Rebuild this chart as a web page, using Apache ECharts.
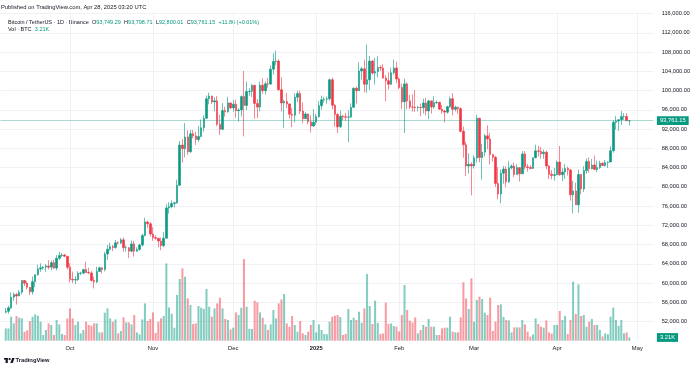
<!DOCTYPE html>
<html><head><meta charset="utf-8">
<script src="https://cdn.jsdelivr.net/npm/echarts@6/dist/echarts.min.js"></script>
<style>html,body{margin:0;padding:0;background:#fff}#c{width:700px;height:369px}</style>
</head><body><div id="c"></div>
<script>
// ---- data (BTC/USDT, Binance, 1D, 2024-09-07 .. 2025-04-28) ----
const firstDay = [2024, 8, 7]; // Sep 7 2024 (UTC)
const opens = [
53950,54160,54880,57050,57640,57340,58130,60570,60000,59130,58210,60310,61760,62950,63200,63350,63580,63330,64260,63140,65180,65770,65860,65600,
63300,60800,60650,60750,62070,62090,62820,62220,62130,60580,60270,62450,63190,62850,66050,67040,67610,67400,68390,68360,69000,67370,67380,66650,68160,66640,67010,67930,69910,72720,72340,
70220,69480,69320,68740,67800,69360,75640,75900,76540,76700,80370,88700,87950,90380,87300,91060,90600,89850,90460,92310,94290,98320,98890,97670,97900,93010,91970,95860,95640,97460,
96410,97200,95840,96000,98770,96940,99830,99870,101110,97360,96590,101130,100000,101420,101370,104460,106060,106140,100200,97460,97750,97220,95100,94880,98640,99400,95750,94180,95160,93520,92640,
93430,94590,96890,98110,98240,98310,102280,96950,95040,92480,94700,94570,94490,94520,96530,100500,99990,104080,104560,101340,102260,106150,103650,103960,104820,104710,102620,102080,101330,103730,104730,
102430,100640,97690,101410,97870,96620,96550,96470,96500,96450,97430,95780,97870,96620,97510,97570,96120,95770,95540,96650,98330,96120,96560,96270,91550,88740,84350,84700,
84370,86030,94270,86120,87220,90620,89960,86740,86150,80730,78530,82860,83720,81060,83960,84330,82570,84010,82720,86850,84170,84040,83830,86080,87500,87390,86900,87220,84350,82650,82390,
82550,85160,82520,83100,83840,83500,78370,79140,76270,82580,79590,83400,85280,83760,84540,83630,84030,84940,84450,85060,85170,87520,93440,93690,93980,94640,94640,93749.29];
const highs = [
54850,55300,58090,58040,57990,58590,60650,60660,60380,59210,61380,61790,63850,64130,63560,64000,64750,64690,64820,65840,66500,66260,66080,65620,
64130,62390,61480,62480,62370,62980,64480,63200,62540,61320,63420,63480,63280,66500,67950,68420,67940,68970,68690,69400,69500,67840,67470,68850,68770,67450,68220,70270,73620,72960,72700,
71630,69950,69390,69480,70580,76400,76850,77200,76930,81500,89530,89940,93270,91790,91850,91800,91450,92640,94000,94900,99000,99590,98960,98600,98870,94970,97400,96650,98690,97460,
98000,98150,96320,99000,104090,101900,100550,101350,101220,98270,101890,102540,101900,102650,105250,107780,108350,106520,102800,98150,99540,97400,96420,99490,99960,99960,97550,95530,95200,94900,96150,
95150,97840,98980,98730,98810,102500,102720,97260,95350,95840,95000,95400,95900,97370,100680,100870,105870,104980,106420,109590,107240,106390,106850,107120,105290,105500,103220,103800,104780,106460,106010,
102780,101460,102500,101730,99120,99200,100140,96880,97320,98350,98500,98120,98000,98830,97970,97730,97050,96000,96900,98750,99480,96890,96670,96500,92540,89400,87000,85120,
86560,95000,94420,88910,91000,92800,91220,86850,86500,84120,83620,84360,84300,85300,84670,85070,84730,84050,87450,87440,84780,84500,86100,88770,88540,88290,87790,87520,84570,83500,83940,
85490,88500,83940,84720,84230,83760,81240,80870,83590,82700,84300,85900,86100,85800,86500,85500,85470,85100,85600,85320,88460,93870,94700,94000,95760,95320,95340,93798.71];
const lows = [
53740,53650,54590,56380,55550,57320,57630,59440,58700,57500,57610,59170,61550,62350,62760,62360,62840,62700,62950,62670,64810,65420,65400,62850,
60160,59980,59830,60460,61680,61830,62130,61850,60300,58900,60000,62410,62050,62440,64800,66750,66660,67160,68010,68100,66570,66570,65260,66460,65520,66560,66760,67620,69730,71440,69690,
68820,69040,67460,66840,67460,69300,74420,75560,75720,76490,80220,85070,86130,86670,87070,90090,88720,89380,90370,91500,94100,97180,97230,95740,92600,90790,91820,94610,95390,96160,
95650,94400,93580,94660,90500,95980,98950,98690,94150,94260,95680,99310,99210,100610,101230,103340,105320,100000,95700,92230,96400,94200,92400,93400,97600,95140,93260,94120,93000,91320,92490,
92870,94420,96030,97530,97270,97920,96130,92500,91200,92210,93830,93710,89260,94320,96500,97350,99950,102280,99650,99550,100120,103340,101260,102750,104110,102500,97780,100270,101260,103340,101560,
100280,96150,91230,96150,96160,95650,95620,95690,94750,95260,94880,94090,95220,96250,97230,96050,95200,93390,95210,96400,94870,95690,95200,91350,86050,82260,82790,78260,
83820,85040,85120,81530,86330,87850,84670,85250,80000,77460,76610,80650,79940,80800,83630,82020,82490,81130,82710,83650,83170,83650,83790,85930,86310,85850,85860,83650,81650,81570,81280,
82430,82320,81160,81660,82370,77150,74510,76240,74620,78460,78970,82770,82950,83680,83600,83110,83740,84300,84230,83950,85140,87100,91930,91650,92860,93930,93700,92800.01];
const closes = [
54160,54880,57050,57640,57340,58130,60570,60000,59130,58210,60310,61760,62950,63200,63350,63580,63330,64260,63140,65180,65770,65860,65600,63300,
60800,60650,60750,62070,62090,62820,62220,62130,60580,60270,62450,63190,62850,66050,67040,67610,67400,68390,68360,69000,67370,67380,66650,68160,66640,67010,67930,69910,72720,72340,70220,
69480,69320,68740,67800,69360,75640,75900,76540,76700,80370,88700,87950,90380,87300,91060,90600,89850,90460,92310,94290,98320,98890,97670,97900,93010,91970,95860,95640,97460,96410,
97200,95840,96000,98770,96940,99830,99870,101110,97360,96590,101130,100000,101420,101370,104460,106060,106140,100200,97460,97750,97220,95100,94880,98640,99400,95750,94180,95160,93520,92640,93430,
94590,96890,98110,98240,98310,102280,96950,95040,92480,94700,94570,94490,94520,96530,100500,99990,104080,104560,101340,102260,106150,103650,103960,104820,104710,102620,102080,101330,103730,104730,102430,
100640,97690,101410,97870,96620,96550,96470,96500,96450,97430,95780,97870,96620,97510,97570,96120,95770,95540,96650,98330,96120,96560,96270,91550,88740,84350,84700,84370,
86030,94270,86120,87220,90620,89960,86740,86150,80730,78530,82860,83720,81060,83960,84330,82570,84010,82720,86850,84170,84040,83830,86080,87500,87390,86900,87220,84350,82650,82390,82550,
85160,82520,83100,83840,83500,78370,79140,76270,82580,79590,83400,85280,83760,84540,83630,84030,84940,84450,85060,85170,87520,93440,93690,93980,94640,94640,93750,93761.15];
// volume, thousands of BTC
const volumes = [
12.3,12.3,24,17.3,24.7,23,22.3,9,10.3,19.7,24,26.3,25,19,5.7,10.7,17.3,15.7,5.7,20.7,
16.3,6.7,5.7,22.3,32.3,22.3,15.7,19,7.3,10.7,19,15.7,15,17.3,17.3,8.3,8.3,28,32.3,22.3,
19,21.3,7.3,9.7,23.3,18.3,18.3,16.3,25.7,8.3,6.3,21.3,37.3,19.7,21.7,28.3,7.7,19,22.3,24.7,
77.3,33.3,27,13,45.7,61.7,72.3,64,42.3,35.7,16.7,17.3,34.7,33,31.7,51.7,34,24,32.3,37.3,
43,32.3,21.7,20.7,11.3,13,28.3,25.7,33,81.7,34,11.7,11.7,40,38.3,28.3,23,16.3,10.7,16.3,
30.7,22.3,37.3,41.3,46.7,17.3,14,24.7,15.7,9,19.7,7.3,5.7,9,15.7,20.7,8.3,16.3,10.7,6.7,
6.3,19,24,25,25.7,23.7,5.7,6.7,31.7,20.7,23,20.7,29,18,32.3,66.7,34.7,16.7,40,17.7,
6.7,7.3,38,16.7,17.3,14.7,14,9.3,25.7,55.7,30.7,20,18.3,23.3,7.3,10.7,15.7,14,21.7,14,
14,5.7,5.7,12.3,13,13,24,9,8.3,8.3,23.3,58.3,42.3,31.7,62.3,19,40.7,44,41.7,28,
25.7,43,9.7,19,35.7,36.3,23.7,20.7,20.3,8.3,13.3,13.3,13.3,20.7,16.3,9,4,6.3,22.3,16.7,
14,13,20.3,8.3,7,15.7,15.7,29.7,20.7,24.7,6.7,20.7,59,26.7,56.3,24.7,25.7,14,19,21.7,
15.7,15.7,10.7,4.3,7.3,6.3,24,33,20.7,15,20.7,7.3,8.3,3.21];
const monthTicks  = ['2024-10-01','2024-11-01','2024-12-01','2025-01-01','2025-02-01','2025-03-01','2025-04-01','2025-05-01'];
const monthLabels = ['Oct','Nov','Dec','2025','Feb','Mar','Apr','May'];
const priceMin = 52000, priceMax = 116000, priceStep = 4000;
const publishedText = 'Published on TradingView.com, Apr 28, 2025 03:20 UTC';
const symbolText = 'Bitcoin / TetherUS · 1D · Binance';
const volText = 'Vol · BTC';

// ---- layout helpers ----
const LEAD = 2, FUTURE = 9;
const N = closes.length;
const dates = [];
const t0 = Date.UTC(firstDay[0], firstDay[1], firstDay[2]) - LEAD * 86400000;
for (let i = 0; i < LEAD + N + FUTURE; i++) dates.push(new Date(t0 + i * 86400000).toISOString().slice(0, 10));
const tickSet = new Set(monthTicks);

const UP = '#089981', DOWN = '#f23645';
const UPV = 'rgba(8,153,129,0.5)', DOWNV = 'rgba(242,54,69,0.5)';
const TXT = '#131722';
const FONT = '"Liberation Sans", Arial, Helvetica, sans-serif';

const candleData = [], volData = [];
for (let i = 0; i < LEAD; i++) { candleData.push('-'); volData.push('-'); }
for (let i = 0; i < N; i++) {
  candleData.push([opens[i], closes[i], lows[i], highs[i]]);
  volData.push({ value: volumes[i], itemStyle: { color: closes[i] >= opens[i] ? UPV : DOWNV } });
}
for (let i = 0; i < FUTURE; i++) { candleData.push('-'); volData.push('-'); }

const fmt2 = v => v.toLocaleString('en-US', { minimumFractionDigits: 2, maximumFractionDigits: 2 });
const last = N - 1;
const chg = closes[last] - opens[last];
const chgPct = chg / opens[last] * 100;
const lastVol = volumes[last];

const GL = 0.43, GR = 46.6;
const chart = echarts.init(document.getElementById('c'), null, { renderer: 'canvas' });
chart.setOption({
  animation: false,
  backgroundColor: '#ffffff',
  textStyle: { fontFamily: FONT },
  grid: [
    { left: GL, right: GR, top: 13.67, height: 308 },
    { left: GL, right: GR, bottom: 28.3, height: 100 }
  ],
  xAxis: [
    { type: 'category', gridIndex: 0, data: dates, boundaryGap: false,
      axisLine: { show: false }, axisTick: { show: false }, axisLabel: { show: false },
      splitLine: { show: true, interval: (i, v) => tickSet.has(v), lineStyle: { color: '#f0f1f4', width: 1 } } },
    { type: 'category', gridIndex: 1, data: dates, boundaryGap: false,
      axisLine: { show: false }, axisTick: { show: false },
      splitLine: { show: true, interval: (i, v) => tickSet.has(v), lineStyle: { color: '#f0f1f4', width: 1 } },
      axisLabel: { interval: (i, v) => tickSet.has(v), margin: 4.5, color: TXT, fontSize: 5.8, fontFamily: FONT,
        formatter: v => { const k = monthTicks.indexOf(v); if (k < 0) return ''; return /^\d{4}$/.test(monthLabels[k]) ? '{b|' + monthLabels[k] + '}' : monthLabels[k]; },
        rich: { b: { fontWeight: 'bold', fontSize: 5.8, color: TXT, fontFamily: FONT } } } }
  ],
  yAxis: [
    { type: 'value', gridIndex: 0, position: 'right', min: priceMin, max: priceMax, interval: priceStep,
      axisLine: { show: false }, axisTick: { show: false },
      axisLabel: { formatter: v => fmt2(v), color: TXT, fontSize: 5.7, fontFamily: FONT, margin: 8.3 },
      splitLine: { show: true, lineStyle: { color: '#f0f1f4', width: 1 } } },
    { type: 'value', gridIndex: 1, min: 0, max: 100, show: false, splitLine: { show: false } }
  ],
  series: [
    { type: 'bar', name: 'Vol', xAxisIndex: 1, yAxisIndex: 1, data: volData, barWidth: 2, z: 1, clip: false,
      markLine: { silent: true, symbol: 'none', data: [{ yAxis: lastVol }],
        lineStyle: { color: 'rgba(0,0,0,0)', width: 0.01 },
        label: { show: true, position: 'end', distance: 3.5, formatter: lastVol.toFixed(2) + 'K',
          backgroundColor: UP, color: '#fff', fontSize: 5.8, fontFamily: FONT, padding: [1.6, 3, 1.2, 3] } } },
    { type: 'candlestick', name: 'BTCUSDT', xAxisIndex: 0, yAxisIndex: 0, data: candleData, barWidth: 2, z: 3, clip: false,
      itemStyle: { color: UP, color0: DOWN, borderColor: UP, borderColor0: DOWN, borderWidth: 0.6 },
      markLine: { silent: true, symbol: 'none', data: [{ yAxis: closes[last] }],
        lineStyle: { color: 'rgba(8,153,129,0.35)', type: 'solid', width: 1 },
        label: { show: true, position: 'end', distance: 3.5, formatter: fmt2(closes[last]),
          backgroundColor: UP, color: '#fff', fontSize: 5.8, fontFamily: FONT, padding: [1.6, 3, 1.2, 3] } } }
  ],
  graphic: [
    { type: 'text', left: 1, top: 4, style: { text: publishedText, fill: TXT, fontSize: 5.8, fontFamily: FONT } },
    { type: 'text', left: 8, top: 16, style: {
        text: '{d|' + symbolText + '} {d|O}{g|' + fmt2(opens[last]) + '} {d|H}{g|' + fmt2(highs[last]) + '} {d|L}{g|' + fmt2(lows[last]) + '} {d|C}{g|' + fmt2(closes[last]) + '} {g|' + (chg >= 0 ? '+' : '') + chg.toFixed(2) + ' (' + (chgPct >= 0 ? '+' : '') + chgPct.toFixed(2) + '%)}',
        rich: { d: { fill: TXT, fontSize: 5.5, fontFamily: FONT }, g: { fill: UP, fontSize: 5.5, fontFamily: FONT } } } },
    { type: 'text', left: 8, top: 23, style: {
        text: '{d|' + volText + '} {g|' + lastVol.toFixed(2) + 'K}',
        rich: { d: { fill: TXT, fontSize: 5.5, fontFamily: FONT }, g: { fill: UP, fontSize: 5.5, fontFamily: FONT } } } },
    { type: 'group', left: 4, top: 358, children: [
        { type: 'rect', shape: { x: 0, y: 0, width: 3.8, height: 1.6 }, style: { fill: TXT } },
        { type: 'rect', shape: { x: 1.6, y: 0, width: 2.2, height: 5 }, style: { fill: TXT } },
        { type: 'circle', shape: { cx: 5.6, cy: 1.1, r: 1.1 }, style: { fill: TXT } },
        { type: 'polygon', shape: { points: [[6.3, 5], [8.2, 0], [10.6, 0], [8.7, 5]] }, style: { fill: TXT } }
    ] },
    { type: 'text', left: 15.5, top: 357.5, style: { text: 'TradingView', fill: TXT, fontSize: 5.8, fontWeight: 'bold', fontFamily: FONT } }
  ]
});
</script>
</body></html>
